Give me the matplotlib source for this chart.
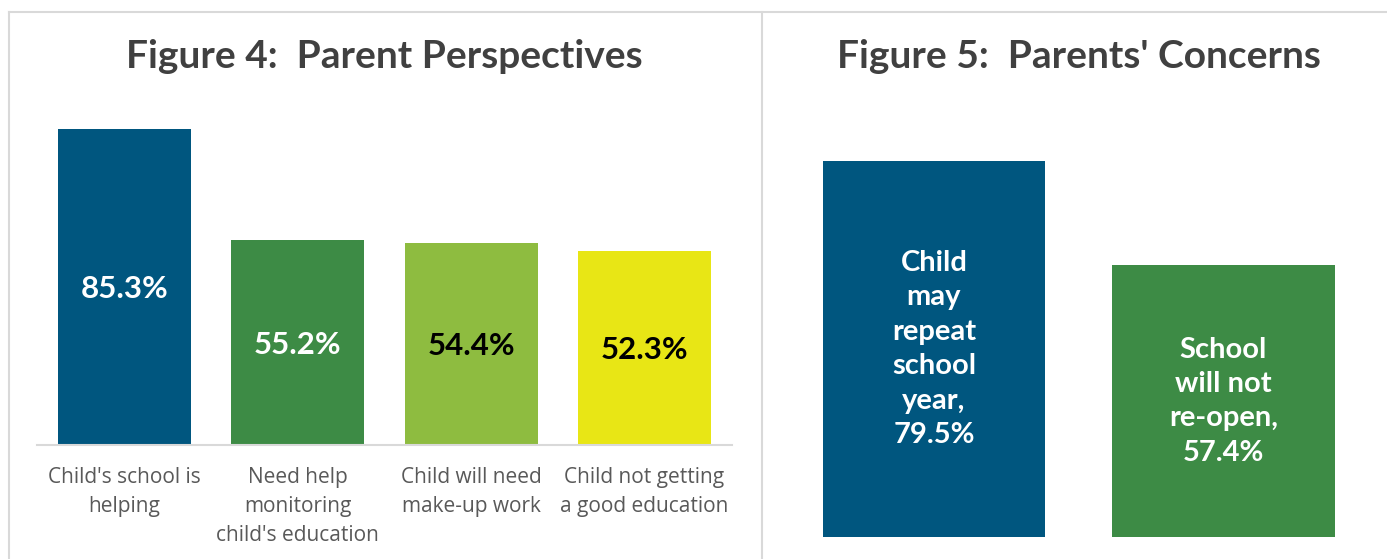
import matplotlib
matplotlib.use("Agg")
import matplotlib.pyplot as plt
from matplotlib.lines import Line2D

# ---- data ----
fig4_categories = ["Child's school is\nhelping", "Need help\nmonitoring\nchild's education",
                   "Child will need\nmake-up work", "Child not getting\na good education"]
fig4_values = [85.3, 55.2, 54.4, 52.3]
fig4_colors = ["#00567F", "#3D8B45", "#8EBC40", "#E8E615"]
fig4_text_colors = ["white", "white", "black", "black"]

fig5_labels = ["Child\nmay\nrepeat\nschool\nyear,", "School\nwill not\nre-open,"]
fig5_values = [79.5, 57.4]
fig5_colors = ["#00567F", "#3D8B45"]

W, H = 1387, 559
fig = plt.figure(figsize=(W / 100, H / 100), dpi=100)

def ax_rect(x0, x1, ytop, ybot):
    return [x0 / W, (H - ybot) / H, (x1 - x0) / W, (ybot - ytop) / H]

title_font = dict(family=["Lato", "DejaVu Sans"], fontweight="bold", color="#404040")
bar_font = dict(family=["Lato", "DejaVu Sans"], fontweight="bold")
cat_font = dict(family=["Open Sans", "DejaVu Sans"], color="#595959")

# panel borders
border = "#D9D9D9"
fig.add_artist(Line2D([9 / W, 1], [1 - 12 / H, 1 - 12 / H], color=border, lw=1.5, transform=fig.transFigure))
fig.add_artist(Line2D([9 / W, 9 / W], [0, 1 - 12 / H], color=border, lw=1.5, transform=fig.transFigure))
fig.add_artist(Line2D([762 / W, 762 / W], [0, 1 - 12 / H], color=border, lw=1.5, transform=fig.transFigure))

# ---- Figure 4 ----
ax1 = fig.add_axes(ax_rect(37, 732, 100, 445))
x1 = list(range(len(fig4_values)))
bars = ax1.bar(x1, fig4_values, width=0.767, color=fig4_colors)
ax1.set_xlim(-0.505, len(fig4_values) - 0.495)
ax1.set_ylim(0, 345 / 3.705)
for b, v, tc in zip(bars, fig4_values, fig4_text_colors):
    ax1.text(b.get_x() + b.get_width() / 2, v / 2 - 0.6, f"{v:.1f}%", ha="center", va="center",
             color=tc, fontsize=22.5, **bar_font)
ax1.set_xticks(x1)
ax1.set_xticklabels(fig4_categories, fontsize=15, linespacing=1.5, va="top", **cat_font)
ax1.tick_params(axis="x", length=0, pad=16)
ax1.set_yticks([])
for s in ["top", "right", "left"]:
    ax1.spines[s].set_visible(False)
ax1.spines["bottom"].set_color("#D9D9D9")
ax1.spines["bottom"].set_linewidth(1.5)
fig.text(384 / W, 1 - 57 / H, "Figure 4:  Parent Perspectives", ha="center", va="center",
         fontsize=28, **title_font)

# ---- Figure 5 ----
ax2 = fig.add_axes(ax_rect(789.25, 1368.25, 100, 537))
x2 = list(range(len(fig5_values)))
bars2 = ax2.bar(x2, fig5_values, width=0.767, color=fig5_colors)
ax2.set_xlim(-0.5, len(fig5_values) - 0.5)
ax2.set_ylim(0, 437 / 4.73)
for b, v, lab in zip(bars2, fig5_values, fig5_labels):
    ax2.text(b.get_x() + b.get_width() / 2, v / 2, f"{lab}\n{v:.1f}%", ha="center", va="center",
             color="white", fontsize=21, linespacing=1.4, **bar_font)
ax2.set_xticks([])
ax2.set_yticks([])
for s in ax2.spines.values():
    s.set_visible(False)
fig.text(1079 / W, 1 - 57 / H, "Figure 5:  Parents' Concerns", ha="center", va="center",
         fontsize=28, **title_font)

fig.savefig("out.png", dpi=100)
